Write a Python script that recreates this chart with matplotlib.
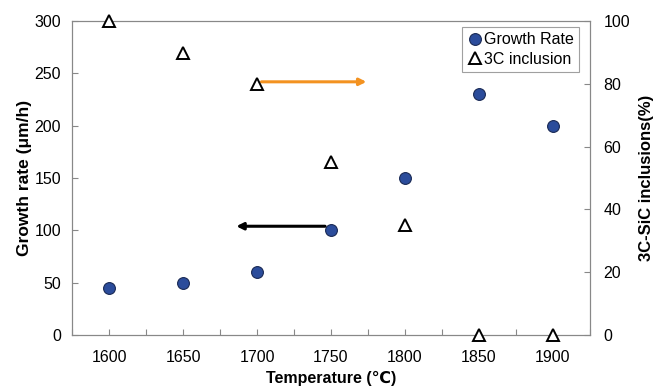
import matplotlib.pyplot as plt

plt.rcParams['font.family'] = ['Liberation Sans', 'DejaVu Sans']

temps = [1600, 1650, 1700, 1750, 1800, 1850, 1900]
growth_rate = [45, 50, 60, 100, 150, 230, 200]
inclusion = [100, 90, 80, 55, 35, 0, 0]
tick_labels = ['1600', '1650', '1700', '1750', '1800', '1850', '1900']

fig = plt.figure(figsize=(6.56, 3.91), dpi=100)
ax = fig.add_axes([0.110, 0.143, 0.789, 0.803])
ax2 = ax.twinx()

h1, = ax.plot(temps, growth_rate, 'o', ms=8.5, mfc='#2B4C9B', mec='#1a2a55',
              mew=0.8, label='Growth Rate', zorder=3)
h2, = ax2.plot(temps, inclusion, '^', ms=9, mfc='white', mec='black',
               mew=1.4, label='3C inclusion', clip_on=False, zorder=3)

ax.set_xlim(1575, 1925)
ax.set_ylim(0, 300)
ax2.set_ylim(0, 100)
xt = list(range(1575, 1926, 25))
ax.set_xticks(xt)
ax.set_xticklabels([tick_labels[temps.index(t)] if t in temps else '' for t in xt])
ax.set_yticks(range(0, 301, 50))
ax2.set_yticks(range(0, 101, 20))

for a in (ax, ax2):
    for s in a.spines.values():
        s.set_color('#888888')
    a.tick_params(direction='in', length=4, color='#888888', labelsize=11.5)
ax.tick_params(axis='x', pad=11)
ax.tick_params(axis='y', pad=8)
ax2.tick_params(axis='y', pad=10)

ax.set_xlabel('Temperature (℃)', fontsize=11.5, fontweight='bold', labelpad=4)
ax.set_ylabel('Growth rate (μm/h)', fontsize=12.5, fontweight='bold', labelpad=2)
ax2.set_ylabel('3C-SiC inclusions(%)', fontsize=12, fontweight='bold', labelpad=6)

# arrows pointing to the axis each series belongs to
ax.annotate('', xy=(1774, 242), xytext=(1703, 242),
            arrowprops=dict(arrowstyle='-|>', color='#F39220', lw=2.2,
                            mutation_scale=10, shrinkA=0, shrinkB=0))
ax.annotate('', xy=(1686, 104), xytext=(1746, 104),
            arrowprops=dict(arrowstyle='-|>', color='black', lw=2.2,
                            mutation_scale=10, shrinkA=0, shrinkB=0))

leg = ax2.legend([h1, h2], ['Growth Rate', '3C inclusion'], loc='upper right',
                 bbox_to_anchor=(0.985, 0.99), fontsize=11.5, fancybox=False,
                 handletextpad=0.1, handlelength=1.0, borderpad=0.3,
                 labelspacing=0.3, borderaxespad=0.2)
leg.get_frame().set_edgecolor('#888888')
leg.get_frame().set_linewidth(0.8)

fig.savefig('out.png', dpi=100)
